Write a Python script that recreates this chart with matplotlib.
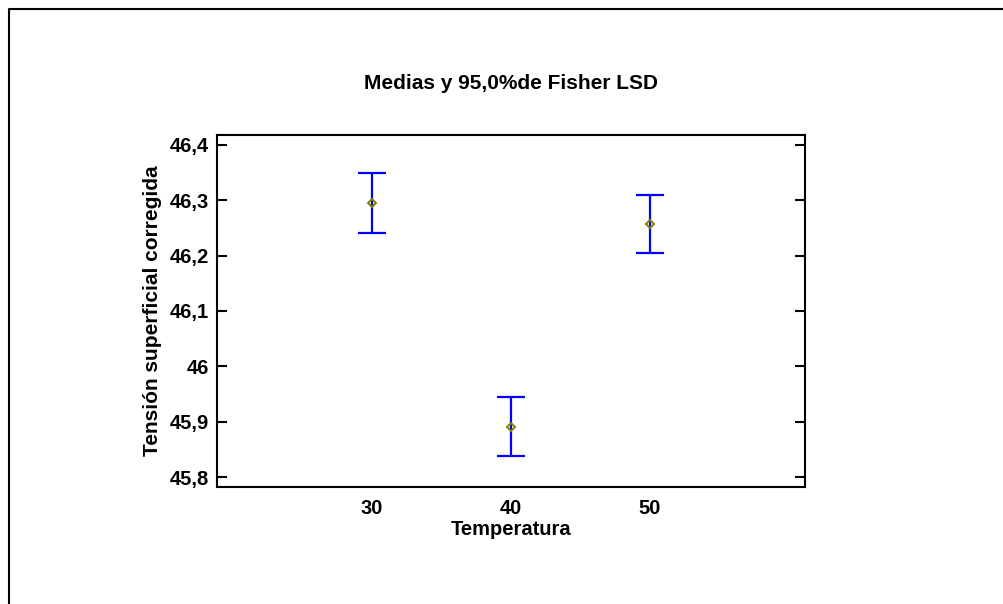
import matplotlib
matplotlib.use("Agg")
import matplotlib.pyplot as plt
from matplotlib.lines import Line2D
from matplotlib.ticker import FuncFormatter

temperatura = [30, 40, 50]
medias = [46.295, 45.891, 46.257]
semi_lsd = [0.054, 0.053, 0.053]
y_ticks = [45.8, 45.9, 46.0, 46.1, 46.2, 46.3, 46.4]

plt.rcParams["font.family"] = ["Liberation Sans", "DejaVu Sans"]
plt.rcParams["font.weight"] = "bold"

fig = plt.figure(figsize=(10.04, 6.04), dpi=100)
ax = fig.add_axes([217 / 1004, 1 - 487 / 604, 588 / 1004, 352 / 604])

ax.errorbar(temperatura, medias, yerr=semi_lsd, fmt="none", ecolor="#0000ff",
            elinewidth=1.6, capsize=10, capthick=1.6)
ax.plot(temperatura, medias, "D", ms=4.5, mfc="none", mec="#808000", mew=1.4)

ax.set_xlim(18.85, 61.15)
ax.set_ylim(45.782, 46.418)
ax.set_xticks(temperatura)
ax.set_yticks(y_ticks)
fmt = FuncFormatter(lambda v, p: f"{v:g}".replace(".", ","))
ax.yaxis.set_major_formatter(fmt)
ax.tick_params(axis="y", direction="in", length=7, width=1.5, left=True, right=True,
               labelsize=14.5, pad=6)
ax.tick_params(axis="x", length=0, labelsize=14.5, pad=9)
for s in ax.spines.values():
    s.set_linewidth(1.5)

ax.set_title("Medias y 95,0%de Fisher LSD", fontsize=15, fontweight="bold", pad=33)
ax.set_xlabel("Temperatura", fontsize=14.5, fontweight="bold", labelpad=1)
ax.set_ylabel("Tensión superficial corregida", fontsize=15, fontweight="bold", labelpad=5)

# outer frame (left and top edges only, as cropped)
fig.add_artist(Line2D([9 / 1004, 9 / 1004, 1.0], [0.0, 1 - 9 / 604, 1 - 9 / 604],
                      transform=fig.transFigure, color="black", lw=1.5))

fig.savefig("out.png", dpi=100)
